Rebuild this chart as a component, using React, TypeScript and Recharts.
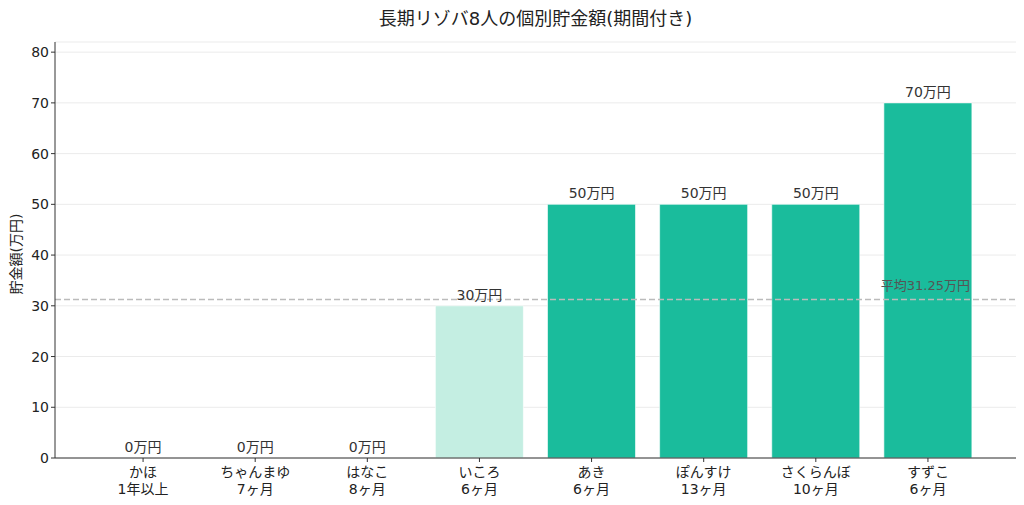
import React from 'react';
import { ComposedChart, Bar, Scatter, XAxis, YAxis, CartesianGrid, ReferenceLine, Cell } from 'recharts';

const names = ['かほ', 'ちゃんまゆ', 'はなこ', 'いころ', 'あき', 'ぽんすけ', 'さくらんぼ', 'すずこ'];
const periods = ['1年以上', '7ヶ月', '8ヶ月', '6ヶ月', '6ヶ月', '13ヶ月', '10ヶ月', '6ヶ月'];
const savings = [0, 0, 0, 30, 50, 50, 50, 70];
const yTicks = [0, 10, 20, 30, 40, 50, 60, 70, 80];
const average = 31.25;

const FONT = '"DejaVu Sans", "Noto Sans CJK JP", sans-serif';

const data = names.map((name, i) => ({ name, period: periods[i], value: savings[i] }));

function XTick(props: any) {
  const { x, y, payload, index } = props;
  return (
    <text x={x} y={y + 3} textAnchor="middle" fill="#222" fontSize={14} fontFamily={FONT}>
      <tspan x={x} dy="0.71em">{payload.value}</tspan>
      <tspan x={x} dy="1.2em">{periods[index]}</tspan>
    </text>
  );
}

// value labels drawn above each bar (also for zero bars)
function ValueLabel(props: any) {
  const { cx, cy, payload } = props;
  return (
    <text x={cx} y={cy - 6} textAnchor="middle" fill="#333" fontSize={14} fontFamily={FONT}>
      {`${payload.value}万円`}
    </text>
  );
}

export default function App() {
  return (
    <div style={{ position: 'absolute', left: 0, top: 0, width: 1024, height: 505, background: '#fff', fontFamily: FONT }}>
      <div style={{ position: 'absolute', left: 55, right: 8, top: 4, textAlign: 'center', fontSize: 18, color: '#222' }}>
        長期リゾバ8人の個別貯金額(期間付き)
      </div>
      <div
        style={{
          position: 'absolute',
          left: 15,
          top: 254,
          transform: 'translate(-50%, -50%) rotate(-90deg)',
          fontSize: 14,
          color: '#222',
          whiteSpace: 'nowrap',
        }}
      >
        貯金額(万円)
      </div>
      <ComposedChart width={1024} height={505} data={data} margin={{ top: 42, right: 8, bottom: 0, left: 0 }} barSize={88}>
        <CartesianGrid vertical={false} stroke="#ebebeb" />
        <XAxis
          dataKey="name"
          height={47}
          padding={{ left: 32, right: 32 }}
          tick={<XTick />}
          tickLine={{ stroke: '#333' }}
          axisLine={{ stroke: '#333' }}
          tickSize={4}
          interval={0}
        />
        <YAxis
          width={55}
          domain={[0, 82]}
          ticks={yTicks}
          tick={{ fill: '#222', fontSize: 14, fontFamily: FONT }}
          tickLine={{ stroke: '#333' }}
          axisLine={{ stroke: '#333' }}
          tickSize={4}
          allowDataOverflow
        />
        <Bar dataKey="value" isAnimationActive={false} stroke="#ffffff" strokeOpacity={0.6}>
          {data.map((d, i) => (
            <Cell key={i} fill={names[i] === 'いころ' ? '#c4eee2' : '#1abc9c'} />
          ))}
        </Bar>
        <Scatter dataKey="value" isAnimationActive={false} shape={<ValueLabel />} />
        <ReferenceLine
          y={average}
          stroke="#bbbbbb"
          strokeWidth={1.5}
          strokeDasharray="6 3"
          label={(p: any) => (
            <text
              x={p.viewBox.x + p.viewBox.width - 46}
              y={p.viewBox.y - 9}
              textAnchor="end"
              fill="#555"
              fontSize={13}
              fontFamily={FONT}
            >
              {`平均${average}万円`}
            </text>
          )}
        />
      </ComposedChart>
    </div>
  );
}
